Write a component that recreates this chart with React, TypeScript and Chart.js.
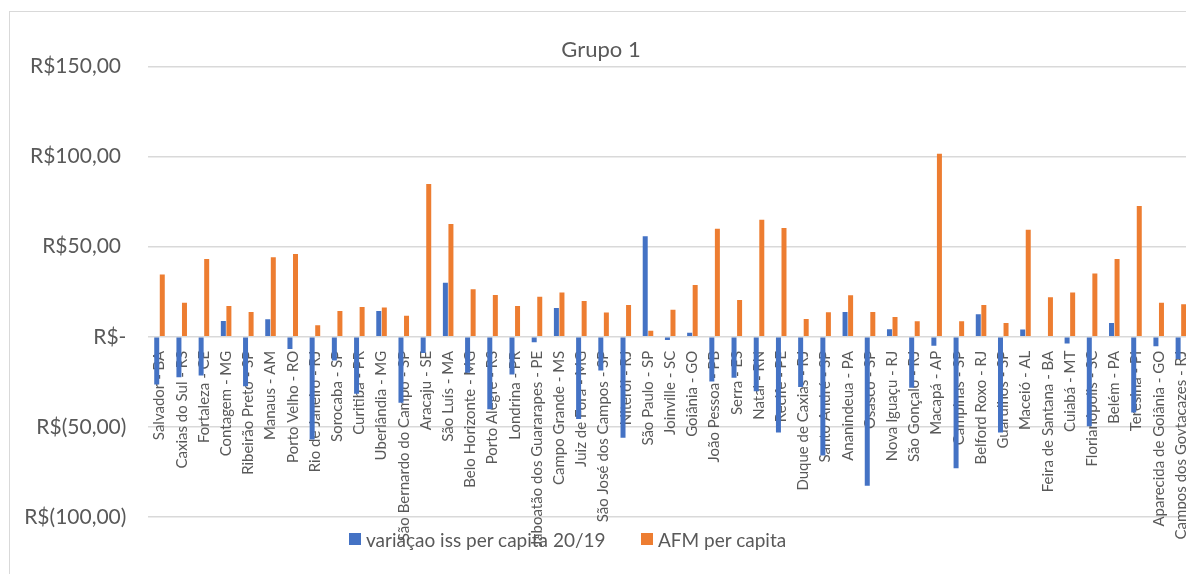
import React, { useEffect, useRef } from "react";
import { Chart, registerables } from "chart.js";

Chart.register(...registerables);

const chartTitle = "Grupo 1";
const seriesNames = ["variaçao iss per capita 20/19", "AFM per capita"];
const seriesColors = ["#4472C4", "#ED7D31"];

const categories = [
  "Salvador - BA",
  "Caxias do Sul - RS",
  "Fortaleza - CE",
  "Contagem - MG",
  "Ribeirão Preto - SP",
  "Manaus - AM",
  "Porto Velho - RO",
  "Rio de Janeiro - RJ",
  "Sorocaba - SP",
  "Curitiba - PR",
  "Uberlândia - MG",
  "São Bernardo do Campo - SP",
  "Aracaju - SE",
  "São Luís - MA",
  "Belo Horizonte - MG",
  "Porto Alegre - RS",
  "Londrina - PR",
  "Jaboatão dos Guararapes - PE",
  "Campo Grande - MS",
  "Juiz de Fora - MG",
  "São José dos Campos - SP",
  "Niterói - RJ",
  "São Paulo - SP",
  "Joinville - SC",
  "Goiânia - GO",
  "João Pessoa - PB",
  "Serra - ES",
  "Natal - RN",
  "Recife - PE",
  "Duque de Caxias - RJ",
  "Santo André - SP",
  "Ananindeua - PA",
  "Osasco - SP",
  "Nova Iguaçu - RJ",
  "São Gonçalo - RJ",
  "Macapá - AP",
  "Campinas - SP",
  "Belford Roxo - RJ",
  "Guarulhos - SP",
  "Maceió - AL",
  "Feira de Santana - BA",
  "Cuiabá - MT",
  "Florianópolis - SC",
  "Belém - PA",
  "Teresina - PI",
  "Aparecida de Goiânia - GO",
  "Campos dos Goytacazes - RJ",
];

const issVariation = [
  -26.5, -22.4, -21.5, 8.8, -27.4, 9.7, -6.8, -57.0, -13.2, -31.6,
  14.3, -36.6, -9.0, 29.9, -20.0, -40.2, -20.9, -3.1, 16.0, -45.6,
  -18.7, -56.0, 55.7, -1.8, 2.2, -24.8, -22.8, -30.3, -53.1, -27.9,
  -65.9, 13.8, -82.7, 4.1, -28.3, -5.0, -73.0, 12.5, -53.1, 4.0,
  0, -3.7, -49.6, 7.7, -42.0, -5.3, -12.3,
];

const afmPerCapita = [
  34.6, 18.9, 43.2, 17.1, 13.8, 44.1, 45.9, 6.4, 14.3, 16.5,
  16.2, 11.6, 84.7, 62.5, 26.3, 23.2, 17.1, 22.2, 24.6, 19.8,
  13.4, 17.6, 3.3, 15.0, 28.7, 59.9, 20.4, 64.9, 60.3, 9.9,
  13.6, 23.0, 13.8, 11.0, 8.6, 101.6, 8.6, 17.6, 7.7, 59.4,
  21.9, 24.6, 35.1, 43.2, 72.6, 18.9, 18.0,
];

const yMin = -100;
const yMax = 150;
const yStep = 50;

const FONT = "Lato, 'Noto Sans', sans-serif";
const TEXT = "#595959";
const GRID = "#d9d9d9";

function formatMoney(v: number): string {
  if (v === 0) return "R$-";
  if (v < 0) return `R$(${Math.abs(v)},00)`;
  return `R$${v},00 `;
}

export default function App() {
  const ref = useRef<HTMLCanvasElement>(null);

  useEffect(() => {
    if (!ref.current) return;
    const chart = new Chart(ref.current, {
      type: "bar",
      data: {
        labels: categories,
        datasets: [
          {
            label: seriesNames[0],
            data: issVariation,
            backgroundColor: seriesColors[0],
            categoryPercentage: 0.5,
            barPercentage: 0.9,
          },
          {
            label: seriesNames[1],
            data: afmPerCapita,
            backgroundColor: seriesColors[1],
            categoryPercentage: 0.5,
            barPercentage: 0.9,
          },
        ],
      },
      options: {
        responsive: false,
        animation: false,
        layout: { padding: { left: 0, right: 4, top: 0, bottom: 55 } },
        plugins: {
          legend: { display: false },
          tooltip: { enabled: false },
          title: {
            display: true,
            text: chartTitle,
            color: TEXT,
            font: { family: FONT, size: 22, weight: "normal" },
            padding: { top: 25, bottom: 3 },
          },
        },
        scales: {
          x: {
            position: { y: 0 } as any,
            z: 1,
            afterFit: (s: any) => {
              s.paddingLeft = 0;
              s.paddingRight = 0;
            },
            grid: { display: false },
            border: { display: false },
            ticks: {
              autoSkip: false,
              minRotation: 90,
              maxRotation: 90,
              padding: 6,
              color: TEXT,
              font: { family: FONT, size: 15 },
            },
          },
          y: {
            min: yMin,
            max: yMax,
            afterFit: (s: any) => {
              s.width = 138.4;
            },
            grid: { color: GRID, lineWidth: 1.5, drawTicks: false },
            border: { display: false },
            ticks: {
              stepSize: yStep,
              padding: 22,
              color: TEXT,
              font: { family: FONT, size: 21 },
              callback: (v: any) => formatMoney(Number(v)),
            },
          },
        },
      },
    });
    return () => chart.destroy();
  }, []);

  const legendText: React.CSSProperties = {
    position: "absolute",
    top: 528,
    fontFamily: FONT,
    fontSize: 19,
    color: TEXT,
    lineHeight: "24px",
    whiteSpace: "nowrap",
  };
  const swatch = (color: string, left: number): React.CSSProperties => ({
    position: "absolute",
    left,
    top: 533,
    width: 12,
    height: 12,
    background: color,
  });

  return (
    <div
      style={{
        position: "fixed",
        left: 0,
        top: 0,
        width: 1186,
        height: 574,
        overflow: "hidden",
        background: "#ffffff",
      }}
    >
      <div
        style={{
          position: "absolute",
          left: 9,
          top: 11,
          width: 1300,
          height: 700,
          borderLeft: "1px solid " + GRID,
          borderTop: "1px solid " + GRID,
        }}
      />
      <canvas
        ref={ref}
        width={1186}
        height={560}
        style={{ position: "absolute", left: 10, top: 12, width: 1186, height: 560 }}
      />
      <div style={swatch(seriesColors[0], 349)} />
      <div style={{ ...legendText, left: 366 }}>{seriesNames[0]}</div>
      <div style={swatch(seriesColors[1], 641)} />
      <div style={{ ...legendText, left: 658 }}>{seriesNames[1]}</div>
    </div>
  );
}
